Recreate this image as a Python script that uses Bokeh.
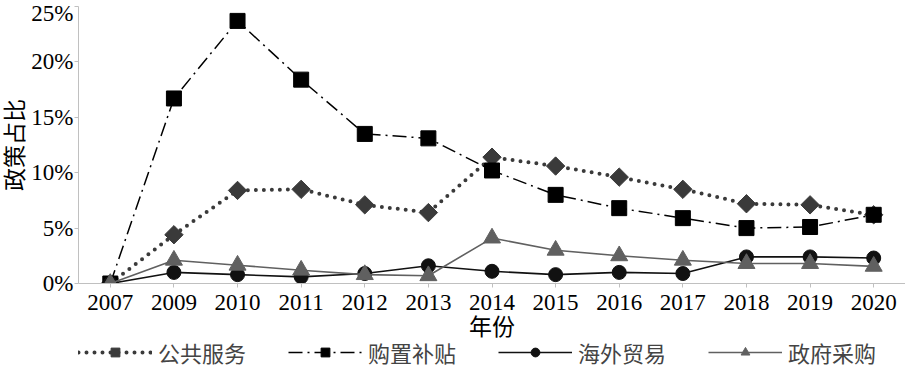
from bokeh.plotting import figure
from bokeh.layouts import column
from bokeh.models import Range1d, FixedTicker, PrintfTickFormatter, Legend, LegendItem, FactorRange
from bokeh.embed import file_html
from bokeh.resources import INLINE
import numpy as np

years = ["2007", "2009", "2010", "2011", "2012", "2013", "2014",
         "2015", "2016", "2017", "2018", "2019", "2020"]
public_service = [0, 4.4, 8.4, 8.5, 7.1, 6.4, 11.4, 10.6, 9.6, 8.5, 7.2, 7.1, 6.2]
purchase_subsidy = [0, 16.7, 23.7, 18.4, 13.5, 13.1, 10.2, 8.0, 6.8, 5.9, 5.0, 5.1, 6.2]
foreign_trade = [0, 1.0, 0.8, 0.6, 0.9, 1.6, 1.1, 0.8, 1.0, 0.9, 2.4, 2.4, 2.3]
gov_procurement = [0, 2.1, 1.65, 1.2, 0.8, 0.7, 4.1, 3.0, 2.5, 2.1, 1.8, 1.8, 1.55]
series_names = ["公共服务", "购置补贴", "海外贸易", "政府采购"]
y_ticks = [0, 5, 10, 15, 20, 25]

FONT = "Liberation Serif, Noto Sans CJK SC"
FS = "23px"
AXIS_GRAY = "#c0c0c0"


def draw_series(fig):
    l1 = fig.line(years, public_service, line_color="#3a3a3a", line_width=4,
                  line_dash="0 8", line_cap="round")
    m1 = fig.scatter(years, public_service, marker="square", angle=np.pi / 4, size=13,
                     fill_color="#3a3a3a", line_color="#3a3a3a")
    l2 = fig.line(years, purchase_subsidy, line_color="black", line_width=1.5,
                  line_dash="14 5 2 5")
    m2 = fig.scatter(years, purchase_subsidy, marker="square", size=15,
                     fill_color="black", line_color="black")
    l3 = fig.line(years, foreign_trade, line_color="#111111", line_width=1.6)
    m3 = fig.scatter(years, foreign_trade, marker="circle", size=14,
                     fill_color="#111111", line_color="#111111")
    l4 = fig.line(years, gov_procurement, line_color="#606060", line_width=1.6)
    m4 = fig.scatter(years, gov_procurement, marker="triangle", size=17,
                     fill_color="#606060", line_color="#606060")
    return [[l1, m1], [l2, m2], [l3, m3], [l4, m4]]


p = figure(width=905, height=342, x_range=FactorRange(factors=years),
           y_range=Range1d(0, 25), output_backend="svg", toolbar_location=None,
           min_border_left=72, min_border_right=0, min_border_top=6, min_border_bottom=0)
p.outline_line_color = None
p.grid.visible = False
p.background_fill_color = "white"
draw_series(p)

xa = p.xaxis[0]
xa.axis_label = "年份"
xa.axis_label_text_font = FONT
xa.axis_label_text_font_size = FS
xa.axis_label_text_font_style = "normal"
xa.axis_label_text_color = "black"
xa.axis_label_standoff = 2
xa.major_label_text_font = FONT
xa.major_label_text_font_size = FS
xa.major_label_text_color = "black"
xa.major_label_standoff = 7
xa.axis_line_color = AXIS_GRAY
xa.major_tick_line_color = AXIS_GRAY
xa.major_tick_in = 0
xa.major_tick_out = 4
xa.minor_tick_line_color = None

ya = p.yaxis[0]
ya.ticker = FixedTicker(ticks=y_ticks)
ya.formatter = PrintfTickFormatter(format="%d%%")
ya.axis_label = "政策占比"
ya.axis_label_text_font = FONT
ya.axis_label_text_font_size = FS
ya.axis_label_text_font_style = "normal"
ya.axis_label_text_color = "black"
ya.axis_label_standoff = 0
ya.major_label_text_font = FONT
ya.major_label_text_font_size = FS
ya.major_label_text_color = "black"
ya.major_label_standoff = 1
ya.axis_line_color = AXIS_GRAY
ya.major_tick_line_color = AXIS_GRAY
ya.major_tick_out = 4
ya.major_tick_in = 0
ya.minor_tick_line_color = None

# legend strip: same series drawn out of view, only the legend shows
pl = figure(width=905, height=26, x_range=FactorRange(factors=years),
            y_range=Range1d(100, 101), output_backend="svg", toolbar_location=None,
            x_axis_location=None, y_axis_location=None, min_border=0)
pl.outline_line_color = None
pl.grid.visible = False
leg_renderers = draw_series(pl)

legend = Legend(items=[LegendItem(label=n, renderers=r)
                       for n, r in zip(series_names, leg_renderers)],
                orientation="horizontal", location=(0, 0))
legend.label_text_font = FONT
legend.label_text_font_size = "22px"
legend.glyph_width = 74
legend.glyph_height = 22
legend.label_height = 22
legend.label_standoff = 6
legend.spacing = 42
legend.padding = 0
legend.margin = 0
legend.border_line_color = None
legend.background_fill_alpha = 0
pl.add_layout(legend, "center")

layout = column(p, pl, spacing=0)
open("out.html", "w").write(file_html(layout, INLINE))
